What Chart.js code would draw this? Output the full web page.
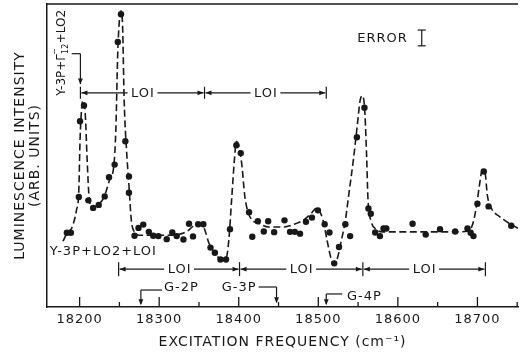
<!DOCTYPE html>
<html>
<head>
<meta charset="utf-8">
<script src="https://cdn.jsdelivr.net/npm/chart.js@4.4.0/dist/chart.umd.min.js"></script>
<style>
  html, body { margin: 0; padding: 0; background: #fff; }
  #wrap { width: 522px; height: 354px; }
</style>
</head>
<body>
<div id="wrap"><canvas id="c" width="522" height="354"></canvas></div>
<script>
// Measured luminescence intensity vs excitation frequency (cm^-1), arbitrary units
const freqMeasured = [
  18184, 18189, 18199, 18200.5, 18205.5, 18211, 18217, 18224, 18231.5, 18237,
  18244, 18248, 18252, 18257.5, 18262, 18262, 18269, 18274, 18280, 18287,
  18292.5, 18299, 18309.5, 18316.5, 18322, 18330.5, 18337.5, 18342.5, 18349, 18355.5,
  18364.5, 18370, 18377, 18384, 18389, 18397, 18402.5, 18413, 18417, 18424,
  18431.5, 18437, 18444.5, 18457.5, 18464.5, 18470.5, 18477, 18484.5, 18492, 18499.5,
  18508, 18514, 18520, 18526, 18534, 18540, 18548.5, 18558, 18563, 18566,
  18571.5, 18577.5, 18582, 18585.5, 18618.5, 18635, 18653, 18672, 18687.5, 18691.5,
  18695, 18700, 18708, 18714, 18742.5
];
const intensityMeasured = [
  24.5, 24.5, 36.3, 61.3, 66.5, 35.2, 32.7, 33.7, 36.5, 42.8,
  47.0, 87.5, 96.6, 54.7, 43.1, 37.7, 23.5, 26.1, 27.2, 24.8,
  23.5, 23.4, 22.4, 24.6, 23.4, 22.3, 27.5, 23.3, 27.3, 27.3,
  19.6, 17.9, 15.7, 15.7, 25.7, 53.4, 50.8, 31.3, 23.2, 28.3,
  24.9, 28.3, 24.7, 28.6, 24.8, 24.8, 24.2, 28.1, 29.5, 31.9,
  27.3, 24.6, 14.4, 19.8, 27.3, 23.4, 56.0, 65.8, 32.5, 30.8,
  24.6, 23.4, 25.9, 25.9, 27.5, 23.9, 25.7, 24.9, 25.9, 24.5,
  23.4, 34.1, 44.7, 33.2, 26.8
];

// Smooth guide curve through the spectrum (dashed)
const freqFit = [
  18179, 18185, 18190, 18196, 18199, 18200.5, 18202.5, 18204.5, 18207, 18209.5,
  18212, 18216, 18224, 18231, 18237.5, 18243, 18245.5, 18248, 18250.5, 18252,
  18254, 18256, 18259, 18262, 18265, 18269, 18275, 18288, 18306, 18325,
  18335, 18342.5, 18349, 18354, 18357.5, 18362.5, 18370, 18377.5, 18384, 18387.5,
  18391, 18394.5, 18397, 18400, 18404, 18407.5, 18411, 18416, 18425, 18437.5,
  18456, 18472.5, 18482.5, 18491, 18497.5, 18501, 18506, 18511, 18516, 18520,
  18524, 18529, 18534, 18539, 18544, 18549, 18552.5, 18555, 18558, 18560.5,
  18562.5, 18566, 18572.5, 18581, 18600, 18637.5, 18675, 18687.5, 18694, 18699,
  18702.5, 18706, 18709.5, 18712.5, 18717.5, 18727.5, 18740, 18751
];
const intensityFit = [
  21.7, 24.7, 26.0, 31.9, 38.5, 54.9, 65.5, 68.1, 64.1, 48.4,
  35.9, 32.9, 33.9, 36.5, 41.8, 46.7, 58.2, 84.5, 96.1, 97.7,
  92.8, 68.1, 51.6, 40.1, 28.6, 24.7, 23.7, 23.7, 23.7, 24.0,
  25.0, 26.6, 27.3, 27.3, 25.3, 21.1, 17.8, 15.8, 16.1, 22.0,
  35.2, 48.4, 54.6, 53.3, 46.7, 36.8, 31.9, 28.9, 27.6, 26.4,
  26.4, 27.6, 28.9, 30.9, 32.6, 31.9, 28.6, 22.0, 16.1, 14.1,
  16.1, 22.0, 28.6, 38.5, 48.4, 59.9, 68.1, 69.7, 66.4, 51.6,
  35.2, 28.6, 25.7, 24.8, 24.8, 24.8, 24.8, 25.0, 27.3, 33.6,
  40.1, 45.1, 44.4, 36.8, 32.6, 29.9, 27.6, 26.0
];

// Axis ticks
const tickFreqs = [18200, 18300, 18400, 18500, 18600, 18700];
const tickLabels = ['18200', '18300', '18400', '18500', '18600', '18700'];
const minorStep = 50;

// Phonon replica spacings (cm^-1) marked above and below the spectrum
const lo1UpperStops = [18201, 18357, 18510];
const lo1LowerStops = [18249, 18401, 18556, 18710];

const ink = '#181818';
const FONT = '"DejaVu Sans", sans-serif';

const annotate = {
  id: 'annotate',
  beforeDraw(chart) {
    chart.ctx.letterSpacing = '1px';
  },
  afterDraw(chart) {
    const { ctx, chartArea: area, scales: { x, y } } = chart;
    const px = v => x.getPixelForValue(v);
    const py = v => y.getPixelForValue(v);

    ctx.save();
    ctx.strokeStyle = ink;
    ctx.fillStyle = ink;

    const line = (x1, y1, x2, y2, w = 1.2) => {
      ctx.lineWidth = w;
      ctx.beginPath();
      ctx.moveTo(x1, y1);
      ctx.lineTo(x2, y2);
      ctx.stroke();
    };
    // filled arrowhead, tip at (tx, ty), pointing in direction (dx, dy)
    const arrow = (tx, ty, dx, dy) => {
      const len = 6, half = 2.4;
      const bx = tx - dx * len, by = ty - dy * len;
      ctx.beginPath();
      ctx.moveTo(tx, ty);
      ctx.lineTo(bx - dy * half, by + dx * half);
      ctx.lineTo(bx + dy * half, by - dx * half);
      ctx.closePath();
      ctx.fill();
    };
    const text = (t, xp, yp, align, size) => {
      ctx.font = size + 'px ' + FONT;
      ctx.textAlign = align;
      ctx.textBaseline = 'middle';
      ctx.fillText(t, xp, yp);
    };

    // frame top edge
    line(area.left, area.top, area.right, area.top, 1.5);

    // inward tick marks on the frequency axis
    for (let f = Math.ceil(x.min / minorStep) * minorStep; f <= x.max; f += minorStep) {
      const major = f % 100 === 0;
      const xp = px(f);
      line(xp, area.bottom, xp, area.bottom - (major ? 10 : 5), 1.3);
    }

    // dimension rows with LO1 spacings
    const dimRow = (stops, yv, half) => {
      const yp = py(yv);
      ctx.font = '13px ' + FONT;
      const w = ctx.measureText('LOI').width;
      stops.forEach(s => line(px(s), yp - half, px(s), yp + half, 1.2));
      for (let i = 0; i < stops.length - 1; i++) {
        const x1 = px(stops[i]), x2 = px(stops[i + 1]);
        const mid = (x1 + x2) / 2;
        line(x1 + 1, yp, mid - w / 2 - 3, yp);
        line(mid + w / 2 + 3, yp, x2 - 1, yp);
        arrow(x1 + 1, yp, -1, 0);
        arrow(x2 - 1, yp, 1, 0);
        text('LOI', mid + 0.5, yp + 0.5, 'center', 13);
      }
    };
    dimRow(lo1UpperStops, 70.7, 6);
    dimRow(lo1LowerStops, 12.5, 7);

    // bracket from the vertical label down to the first upper stop
    const bx = px(lo1UpperStops[0]);
    line(px(18190), py(83.6), bx, py(83.6));
    line(bx, py(83.6), bx, py(73.6));
    arrow(bx, py(73.4), 0, 1);

    // vertical assignment label
    ctx.save();
    ctx.letterSpacing = '0px';
    ctx.translate(px(18181.25), py(69.7));
    ctx.rotate(-Math.PI / 2);
    ctx.textAlign = 'left';
    ctx.textBaseline = 'alphabetic';
    let cx = 0;
    ctx.font = '12px ' + FONT;
    ctx.fillText('Y-3P+', cx, 0);
    cx += ctx.measureText('Y-3P+').width;
    ctx.fillText('Γ', cx, 0);
    cx += ctx.measureText('Γ').width;
    ctx.font = '8px ' + FONT;
    ctx.fillText('−', cx - 1, -8);
    ctx.fillText('12', cx, 3);
    cx += ctx.measureText('12').width + 0.5;
    ctx.font = '12px ' + FONT;
    ctx.fillText('+LO2', cx, 0);
    ctx.restore();

    // lower assignment label
    text('Y-3P+LO2+LOI', px(18162.5), py(18.4), 'left', 13);

    // G-nP markers
    const g2 = px(18277);
    line(g2, py(5.6), px(18303.5), py(5.6));
    line(g2, py(5.6), g2, py(1.0));
    arrow(g2, py(0.6), 0, 1);
    text('G-2P', px(18306), py(6.3), 'left', 13);

    const g3 = px(18447.5);
    text('G-3P', px(18422.5), py(6.5), 'right', 13);
    line(px(18425), py(6.6), g3, py(6.6));
    line(g3, py(6.6), g3, py(1.6));
    arrow(g3, py(1.2), 0, 1);

    const g4 = px(18510);
    line(g4, py(4.3), px(18530), py(4.3));
    line(g4, py(4.3), g4, py(1.0));
    arrow(g4, py(0.6), 0, 1);
    text('G-4P', px(18536), py(3.3), 'left', 13);

    // error bar legend
    text('ERROR', px(18612.5), py(88.5), 'right', 13);
    const ex = px(18630);
    line(ex, py(86.2), ex, py(91.4));
    line(ex - 4, py(86.2), ex + 4, py(86.2));
    line(ex - 4, py(91.4), ex + 4, py(91.4));

    ctx.restore();
  }
};

const measured = freqMeasured.map((f, i) => ({ x: f, y: intensityMeasured[i] }));
const fit = freqFit.map((f, i) => ({ x: f, y: intensityFit[i] }));

new Chart(document.getElementById('c'), {
  type: 'scatter',
  data: {
    datasets: [
      {
        label: 'measured',
        data: measured,
        showLine: false,
        pointRadius: 3.2,
        pointBackgroundColor: ink,
        pointBorderWidth: 0,
        order: 0
      },
      {
        label: 'fit',
        data: fit,
        showLine: true,
        pointRadius: 0,
        borderColor: ink,
        borderWidth: 1.6,
        borderDash: [7, 3.5],
        cubicInterpolationMode: 'monotone',
        order: 1
      }
    ]
  },
  options: {
    responsive: false,
    animation: false,
    devicePixelRatio: 1,
    layout: { padding: { top: 3, right: 1, left: 0, bottom: 0 } },
    plugins: { legend: { display: false }, tooltip: { enabled: false } },
    scales: {
      x: {
        type: 'linear',
        min: 18159,
        max: 18751,
        afterBuildTicks: s => { s.ticks = tickFreqs.map(v => ({ value: v })); },
        afterFit: s => { s.height = 47; },
        ticks: {
          callback: v => { const i = tickFreqs.indexOf(v); return i >= 0 ? tickLabels[i] : ''; },
          font: { family: FONT, size: 13 },
          color: ink,
          padding: 5,
          maxRotation: 0,
          autoSkip: false
        },
        grid: { display: false, drawTicks: false },
        border: { display: true, color: ink, width: 1.5 },
        title: {
          display: true,
          text: 'EXCITATION FREQUENCY (cm⁻¹)',
          font: { family: FONT, size: 14, lineHeight: 16 / 14 },
          color: ink,
          padding: { top: 0, bottom: 4 }
        }
      },
      y: {
        min: 0,
        max: 100,
        afterFit: s => { s.width = 47; },
        ticks: { display: false },
        grid: { display: false, drawTicks: false },
        border: { display: true, color: ink, width: 1.5 },
        title: {
          display: true,
          text: ['LUMINESCENCE INTENSITY', '(ARB. UNITS)'],
          font: { family: FONT, size: 14, lineHeight: 15 / 14 },
          color: ink,
          padding: { top: 12.5, bottom: 0 }
        }
      }
    }
  },
  plugins: [annotate]
});
</script>
</body>
</html>
